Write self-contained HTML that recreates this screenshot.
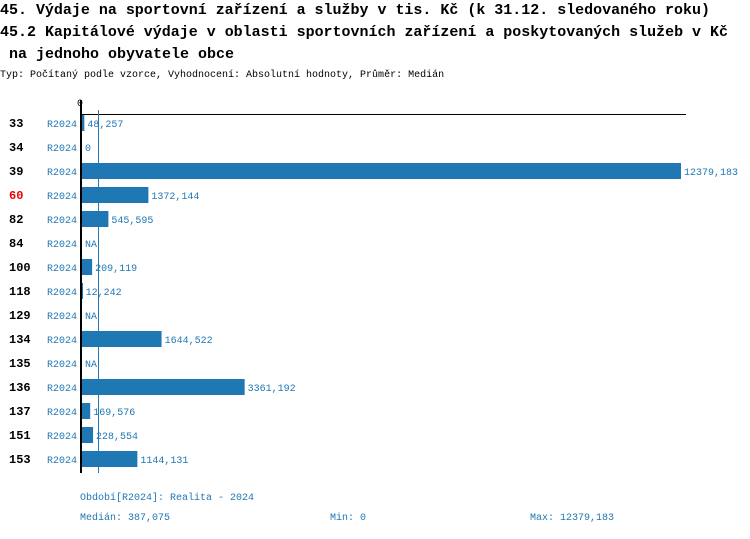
<!DOCTYPE html><html><head><meta charset="utf-8"><style>
body{margin:0;background:#fff;width:750px;height:534px;overflow:hidden}
svg text{font-family:"Liberation Mono",monospace}
</style></head><body>
<svg width="750" height="534" xmlns="http://www.w3.org/2000/svg">
<g font-size="15" font-weight="bold" fill="#000">
<text x="0" y="14" textLength="710" lengthAdjust="spacingAndGlyphs">45. Výdaje na sportovní zařízení a služby v tis. Kč (k 31.12. sledovaného roku)</text>
<text x="0" y="36" textLength="728" lengthAdjust="spacingAndGlyphs">45.2 Kapitálové výdaje v oblasti sportovních zařízení a poskytovaných služeb v Kč</text>
<text x="9" y="58" textLength="225" lengthAdjust="spacingAndGlyphs">na jednoho obyvatele obce</text>
</g>
<text x="0" y="77" font-size="10">Typ: Počítaný podle vzorce, Vyhodnocení: Absolutní hodnoty, Průměr: Medián</text>
<text x="77" y="106" font-size="10">0</text>
<line x1="80" y1="114.5" x2="686" y2="114.5" stroke="#000" stroke-width="1"/>
<line x1="98.5" y1="110" x2="98.5" y2="473" stroke="#1f77b4" stroke-width="1"/>
<g id="rows"></g>
<line x1="81" y1="100" x2="81" y2="473" stroke="#000" stroke-width="2"/>
<g font-size="10" fill="#1f77b4">
<text x="80" y="500">Období[R2024]: Realita - 2024</text>
<text x="80" y="520">Medián: 387,075</text>
<text x="330" y="520">Min: 0</text>
<text x="530" y="520">Max: 12379,183</text>
</g>
</svg>
<script>
var d=[["33",48257,"48,257"],["34",0,"0"],["39",12379183,"12379,183"],["60",1372144,"1372,144"],["82",545595,"545,595"],["84",null,"NA"],["100",209119,"209,119"],["118",12242,"12,242"],["129",null,"NA"],["134",1644522,"1644,522"],["135",null,"NA"],["136",3361192,"3361,192"],["137",169576,"169,576"],["151",228554,"228,554"],["153",1144131,"1144,131"]];
var g=document.getElementById("rows"),s="";
d.forEach(function(r,i){var cy=123+24*i;var w=r[1]?r[1]*599/12379183:0;
s+='<text x="9" y="'+(cy+4)+'" font-size="12" font-weight="bold" fill="'+(r[0]=="60"?"#e00":"#000")+'">'+r[0]+'</text>';
s+='<text x="47" y="'+(cy+4)+'" font-size="10" fill="#1f77b4">R2024</text>';
if(w>0)s+='<rect x="82" y="'+(cy-8)+'" width="'+Math.max(w,1)+'" height="16" fill="#1f77b4"/>';
s+='<text x="'+(82+w+3)+'" y="'+(cy+4)+'" font-size="10" fill="#1f77b4">'+r[2]+'</text>';});
g.innerHTML=s;
</script>
</body></html>
